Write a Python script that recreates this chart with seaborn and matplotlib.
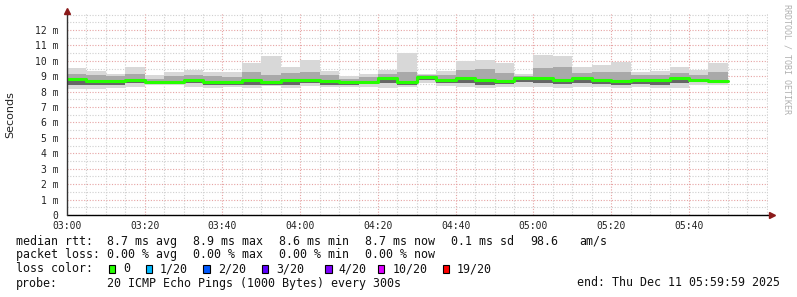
import numpy as np
import pandas as pd
import matplotlib
matplotlib.use("Agg")
import matplotlib.pyplot as plt
from matplotlib.patches import Rectangle
import seaborn as sns

# ---------------- data (ms) per 5-minute bin starting 03:00 ----------------
bin_minutes = list(range(0, 170, 5))
rtt_median = [8.80, 8.72, 8.70, 8.75, 8.63, 8.60, 8.75, 8.60, 8.60, 8.75, 8.63, 8.75,
              8.75, 8.70, 8.63, 8.63, 8.90, 8.62, 8.92, 8.77, 8.87, 8.75, 8.72, 8.87,
              8.87, 8.77, 8.87, 8.77, 8.66, 8.75, 8.75, 8.86, 8.77, 8.72]
rtt_max = [9.55, 9.37, 9.16, 9.60, 9.07, 9.30, 9.43, 9.30, 9.25, 9.83, 10.28, 9.60,
           10.07, 9.37, 9.03, 9.16, 9.43, 10.50, 9.16, 9.37, 10.00, 10.07, 9.87, 9.16,
           10.35, 10.28, 9.58, 9.74, 9.89, 9.29, 9.35, 9.60, 9.42, 9.83]
rtt_min = [8.15, 8.20, 8.25, 8.30, 8.40, 8.40, 8.30, 8.22, 8.30, 8.25, 8.38, 8.22,
           8.38, 8.27, 8.33, 8.30, 8.22, 8.30, 8.55, 8.38, 8.30, 8.22, 8.33, 8.30,
           8.33, 8.22, 8.30, 8.30, 8.22, 8.30, 8.22, 8.22, 8.44, 8.44]
rtt_q25 = [8.45, 8.45, 8.45, 8.55, 8.50, 8.50, 8.55, 8.40, 8.45, 8.45, 8.45, 8.45,
           8.55, 8.45, 8.45, 8.50, 8.55, 8.40, 8.75, 8.55, 8.55, 8.45, 8.50, 8.60,
           8.55, 8.50, 8.55, 8.50, 8.45, 8.50, 8.45, 8.55, 8.60, 8.55]
rtt_q75 = [9.15, 9.05, 9.00, 9.15, 8.85, 9.00, 9.10, 9.00, 8.95, 9.25, 9.10, 9.20,
           9.25, 9.05, 8.85, 8.95, 9.15, 9.30, 9.05, 9.10, 9.40, 9.45, 9.20, 9.00,
           9.55, 9.60, 9.20, 9.25, 9.30, 9.05, 9.05, 9.20, 9.10, 9.25]
bin_width = 5

x_tick_pos = [0, 20, 40, 60, 80, 100, 120, 140, 160]
x_tick_labels = ["03:00", "03:20", "03:40", "04:00", "04:20", "04:40", "05:00", "05:20", "05:40"]
y_tick_pos = list(range(0, 13))
y_tick_labels = ["0"] + [f"{v} m" for v in range(1, 13)]

loss_labels = ["0", "1/20", "2/20", "3/20", "4/20", "10/20", "19/20"]
loss_colors = ["#26ff00", "#00b8ff", "#0059ff", "#5e00ff", "#7e00ff", "#dd00ff", "#ff0000"]

# ---------------- figure ----------------
sns.set_theme(style="white")
plt.rcParams["font.family"] = ["DejaVu Sans Mono"]

W, H = 797, 297
fig = plt.figure(figsize=(W / 100, H / 100), dpi=100)
fig.patch.set_facecolor("white")
ax_left, ax_right, ax_top, ax_bottom = 67, 768.3, 13.3, 215
ax = fig.add_axes([ax_left / W, (H - ax_bottom) / H, (ax_right - ax_left) / W, (ax_bottom - ax_top) / H])
ax.set_facecolor("white")

edges = np.array(bin_minutes + [bin_minutes[-1] + bin_width])
def ext(a):
    return np.append(np.asarray(a, float), a[-1])

ax.fill_between(edges, ext(rtt_min), ext(rtt_max), step="post", color="#d8d8d8", lw=0, zorder=1)
ax.fill_between(edges, ext(rtt_q25), ext(rtt_q75), step="post", color="#a9a9a9", lw=0, zorder=2)
ax.fill_between(edges, ext(rtt_q25), ext(rtt_median), step="post", color="#666666", lw=0, zorder=3)

df = pd.DataFrame({"t": edges, "median": ext(rtt_median)})
sns.lineplot(data=df, x="t", y="median", ax=ax, drawstyle="steps-post",
             color=loss_colors[0], lw=2.2, zorder=5)

ax.set_xlim(0, 180.4)
ax.set_ylim(0, 13.08)
ax.set_xticks(x_tick_pos)
ax.set_xticklabels(x_tick_labels)
ax.set_xticks(np.arange(0, 181, 5), minor=True)
ax.set_yticks(y_tick_pos)
ax.set_yticklabels(y_tick_labels)
ax.set_yticks(np.arange(0, 13.01, 0.5), minor=True)
ax.tick_params(axis="both", which="both", length=0, labelsize=7, colors="#222222")
ax.tick_params(axis="y", pad=6)
ax.tick_params(axis="x", pad=4)
ax.set_xlabel("")
ax.set_ylabel("Seconds", family="DejaVu Sans", fontsize=8, labelpad=14, color="#222222")

ax.grid(which="minor", color="#cfcfcf", linestyle=(0, (1, 1.5)), lw=0.8, zorder=6)
ax.grid(which="major", color="#e6a3a3", linestyle=(0, (1, 1.5)), lw=0.8, zorder=7)
for s in ax.spines.values():
    s.set_visible(False)

# axes lines with arrows
ax.plot([0, 1.003], [0, 0], transform=ax.transAxes, color="black", lw=1, clip_on=False, zorder=9)
ax.plot([0, 0], [0, 1.0], transform=ax.transAxes, color="#333333", lw=1, clip_on=False, zorder=9)
ax.plot([1.005], [0], marker=">", ms=4, color="#8b1a1a", transform=ax.transAxes, clip_on=False, zorder=10)
ax.plot([0], [1.012], marker="^", ms=4, color="#8b1a1a", transform=ax.transAxes, clip_on=False, zorder=10)

# right watermark
fig.text(787 / W, 1 - 4 / H, "RRDTOOL / TOBI OETIKER", rotation=270, ha="center", va="top",
         fontsize=6.0, color="#b0b0b0")

# ---------------- legend text ----------------
fs = 8.4
def t(xp, yp, s, **kw):
    fig.text(xp / W, 1 - yp / H, s, fontsize=fs, va="center", ha=kw.pop("ha", "left"),
             color="#111111", **kw)

y1, y2, y3, y4 = 241.3, 254.7, 269, 283
t(16, y1, "median rtt:")
t(107, y1, "8.7 ms avg")
t(193, y1, "8.9 ms max")
t(279, y1, "8.6 ms min")
t(365, y1, "8.7 ms now")
t(451, y1, "0.1 ms sd")
t(530, y1, "98.6")
t(579, y1, "am/s")

t(16, y2, "packet loss:")
t(107, y2, "0.00 % avg")
t(193, y2, "0.00 % max")
t(279, y2, "0.00 % min")
t(365, y2, "0.00 % now")

t(16, y3, "loss color:")
box_x = [108.7, 145.7, 203.3, 261.7, 325, 377.7, 442.7]
lab_x = [123, 160, 218, 276, 338.7, 392.7, 457]
for bx, lx, lab, col in zip(box_x, lab_x, loss_labels, loss_colors):
    fig.patches.append(Rectangle((bx / W, 1 - 272.7 / H), 6.5 / W, 7.3 / H,
                                 transform=fig.transFigure, facecolor=col,
                                 edgecolor="black", lw=0.8))
    t(lx, y3, lab)

t(16, y4, "probe:")
t(107, y4, "20 ICMP Echo Pings (1000 Bytes) every 300s")
t(780, y4, "end: Thu Dec 11 05:59:59 2025", ha="right")

fig.savefig("out.png", dpi=100, facecolor="white")
